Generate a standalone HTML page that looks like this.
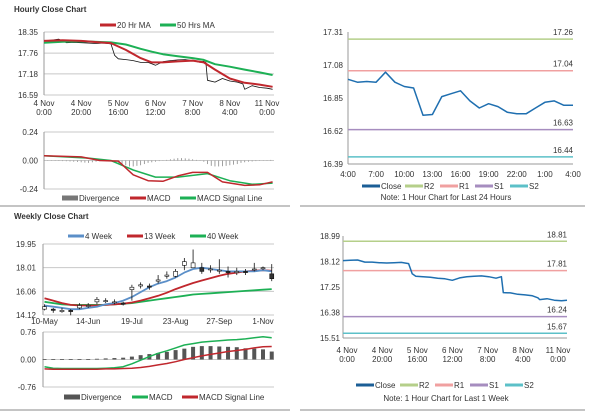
<!DOCTYPE html>
<html><head><meta charset="utf-8">
<style>
body{margin:0;background:#fff;width:600px;height:413px;overflow:hidden;font-family:"Liberation Sans",sans-serif}
svg text{font-family:"Liberation Sans",sans-serif;font-size:8px;fill:#333}
</style></head><body>
<svg id="c" width="600" height="413"></svg>
<script>
// ---------- Hourly (left) ----------
const hHours=[0,4,8,12,16,20,24,28,32,36,38,40,44,48,52,56,60,64,68,72,76,80,84,87,88,92,96,100,104,107,108,112,116,120,123];
const hClose=[18.1,18.12,18.15,18.05,18.06,18.05,18.04,18.03,18.04,18.02,17.7,17.6,17.58,17.55,17.5,17.5,17.42,17.52,17.55,17.57,17.58,17.55,17.5,17.55,17.0,16.95,17.05,16.98,16.95,16.9,16.75,16.85,16.8,16.78,16.75];
const maHours=[0,10,20,30,36,44,52,58,64,72,80,86,92,100,108,116,123];
const ma20=[18.1,18.12,18.1,18.06,18.04,17.85,17.62,17.5,17.5,17.53,17.55,17.5,17.3,17.05,16.93,16.88,16.82];
const ma50=[18.05,18.08,18.09,18.07,18.06,18.0,17.88,17.8,17.73,17.67,17.62,17.57,17.45,17.38,17.3,17.22,17.15];
const hTicks=[18.35,17.76,17.18,16.59];
const hXLabels=[["4 Nov","0:00",0],["4 Nov","20:00",20],["5 Nov","16:00",40],["6 Nov","12:00",60],["7 Nov","8:00",80],["8 Nov","4:00",100],["11 Nov","0:00",120]];
const mHours=[0,20,30,40,48,56,64,72,80,88,96,108,116,123];
const hMacd=[0.04,0.03,0.0,-0.005,-0.12,-0.17,-0.175,-0.13,-0.1,-0.1,-0.18,-0.21,-0.205,-0.18];
const sHours=[0,24,36,48,60,72,88,100,112,123];
const hSignal=[0.04,0.02,0.0,-0.08,-0.14,-0.14,-0.11,-0.17,-0.2,-0.19];
const hDiv=[0,0,-0.002,-0.003,-0.004,-0.005,-0.006,-0.008,-0.01,-0.012,-0.015,-0.018,-0.02,-0.015,-0.01,-0.005,0,0,0,-0.01,-0.02,-0.03,-0.04,-0.05,-0.05,-0.045,-0.04,-0.03,-0.02,-0.015,-0.01,-0.005,0,0.005,0.01,0.015,0.02,0.02,0.018,0.015,0.01,0.005,0,-0.01,-0.03,-0.045,-0.05,-0.05,-0.048,-0.045,-0.04,-0.035,-0.03,-0.02,-0.015,-0.01,-0.008,-0.005,-0.003,0,0.003,0.005];
const hmTicks=[0.24,0.00,-0.24];
// ---------- Right top ----------
const rtLabels=["4:00","7:00","10:00","13:00","16:00","19:00","22:00","1:00","4:00"];
const rtClose=[16.98,16.96,16.965,16.96,17.03,16.96,16.93,16.92,16.73,16.735,16.86,16.88,16.9,16.83,16.78,16.81,16.79,16.75,16.74,16.74,16.78,16.82,16.83,16.8,16.8];
const rtTicks=[17.31,17.08,16.85,16.62,16.39];
const rtLevels=[17.26,17.04,16.63,16.44];
// ---------- Weekly ----------
const wOpen=[14.6,14.6,14.4,14.5,14.7,14.9,15.2,15.3,15.2,15.1,16.2,16.5,16.5,16.9,17.3,17.3,18.2,18.0,18.0,17.9,17.8,17.7,17.6,17.7,17.9,18.0,17.5];
const wClose=[14.8,14.5,14.5,14.4,14.9,14.9,15.4,15.3,15.2,15.0,16.4,16.6,16.4,17.0,17.4,17.7,18.5,18.4,17.7,17.9,17.8,17.6,17.7,17.6,17.9,18.0,17.1];
const wHigh=[15.0,14.7,14.7,14.6,15.1,15.1,15.6,15.5,15.4,15.2,16.6,16.8,16.7,17.4,17.7,17.9,18.8,19.5,18.4,18.2,18.7,18.1,18.0,17.9,18.4,18.1,18.3];
const wLow=[14.5,14.3,14.3,14.1,14.6,14.7,15.0,15.1,15.0,14.9,15.3,16.3,16.2,16.7,17.1,17.2,17.8,18.0,17.5,17.6,17.5,17.2,17.4,17.4,17.7,17.8,16.9];
const w4=[14.9,14.8,14.7,14.6,14.6,14.7,14.8,15.0,15.1,15.3,15.6,16.0,16.4,16.7,16.9,17.2,17.6,17.9,18.0,17.9,17.8,17.7,17.7,17.7,17.7,17.8,17.7];
const w13=[15.5,15.3,15.1,14.95,14.9,14.9,14.9,14.95,15.0,15.05,15.15,15.3,15.5,15.7,15.95,16.25,16.5,16.75,16.95,17.15,17.35,17.5,17.6,17.7,17.75,17.8,17.75];
const w40=[15.2,15.1,15.0,14.95,14.95,14.95,14.95,14.95,15.0,15.05,15.1,15.2,15.3,15.4,15.5,15.6,15.7,15.8,15.85,15.9,15.95,16.0,16.05,16.1,16.15,16.2,16.25];
const wTicks=[19.95,18.01,16.06,14.12];
const wXLabels=[["10-May",0],["14-Jun",5],["19-Jul",10],["23-Aug",15],["27-Sep",20],["1-Nov",25]];
const wDiv=[0.01,0.01,0.01,0.01,0.01,0.01,0.02,0.03,0.04,0.05,0.08,0.12,0.15,0.18,0.21,0.26,0.3,0.35,0.37,0.37,0.36,0.35,0.34,0.31,0.3,0.28,0.22];
const wMacd=[-0.2,-0.24,-0.25,-0.25,-0.25,-0.25,-0.25,-0.24,-0.23,-0.2,-0.12,-0.02,0.08,0.17,0.24,0.32,0.4,0.44,0.48,0.5,0.52,0.54,0.55,0.57,0.6,0.63,0.6];
const wSignal=[-0.26,-0.27,-0.27,-0.27,-0.27,-0.27,-0.27,-0.26,-0.26,-0.25,-0.24,-0.22,-0.19,-0.15,-0.11,-0.06,0.0,0.05,0.1,0.14,0.18,0.22,0.25,0.28,0.32,0.35,0.36];
const wmTicks=[0.76,0.00,-0.76];
// ---------- Right bottom ----------
const rbHours=[0,4,8,12,16,20,24,28,32,36,38,40,44,48,52,56,60,64,68,72,76,80,84,87,88,92,96,100,104,107,108,112,116,120,123];
const rbClose=[18.15,18.16,18.17,18.1,18.1,18.08,18.07,18.08,18.09,18.05,17.7,17.62,17.6,17.58,17.55,17.53,17.48,17.56,17.6,17.62,17.63,17.6,17.55,17.6,17.06,17.05,17.0,16.98,16.95,16.88,16.82,16.85,16.8,16.78,16.8];
const rbLabels=[["4 Nov","0:00",0],["4 Nov","20:00",20],["5 Nov","16:00",40],["6 Nov","12:00",60],["7 Nov","8:00",80],["8 Nov","4:00",100],["11 Nov","0:00",120]];
const rbTicks=[18.99,18.12,17.25,16.38,15.51];
const rbLevels=[18.81,17.81,16.24,15.67];

const NS="http://www.w3.org/2000/svg",svg=document.getElementById('c');
function el(t,a,p){const e=document.createElementNS(NS,t);for(const k in a)e.setAttribute(k,a[k]);(p||svg).appendChild(e);return e;}
function txt(x,y,s,anchor,extra){const e=el('text',Object.assign({x:x,y:y,'text-anchor':anchor||'start'},extra||{}));e.textContent=s;return e;}
function lin(a,b,c,d){return v=>c+(v-a)*(d-c)/(b-a);}
function poly(xs,ys,fx,fy,col,w,name){const p=xs.map((x,i)=>fx(x).toFixed(1)+','+fy(ys[i]).toFixed(1)).join(' ');const e=el('polyline',{points:p,fill:'none',stroke:col,'stroke-width':w,'stroke-linejoin':'round'});return e;}
function grid(ticks,fy,x0,x1,lx,fmt,name){ticks.forEach(t=>{const g=el('line',{x1:x0,x2:x1,y1:fy(t),y2:fy(t),stroke:'#c8c8c8','stroke-width':1});const l=txt(lx,fy(t)+3,t.toFixed(2),'end');});}
function axisV(x,y0,y1){el('line',{x1:x,x2:x,y1:y0,y2:y1,stroke:'#999'});}
function legendItem(x,y,col,label,w,thick){const l=el('line',{x1:x,x2:x+w,y1:y,y2:y,stroke:col,'stroke-width':thick||3});const t=txt(x+w+1,y+3,label);}
const idx=a=>a.map((_,i)=>i);
const RED='#c0272d',GRN='#1db055',BLU='#1f6fb0';

// Titles & separators
let t1=txt(14,12,'Hourly Close Chart','start',{'font-size':'11px','font-weight':'bold',fill:'#111'});
let t2=txt(14,219,'Weekly Close Chart','start',{'font-size':'11px','font-weight':'bold',fill:'#111'});
el('line',{x1:0,x2:290,y1:206,y2:206,stroke:'#888'});el('line',{x1:300,x2:585,y1:206,y2:206,stroke:'#888'});
el('line',{x1:0,x2:290,y1:410,y2:410,stroke:'#888'});el('line',{x1:300,x2:585,y1:410,y2:410,stroke:'#888'});

// Hourly price
{const fx=lin(0,120,44,267),fy=lin(18.35,16.59,32,95);
grid(hTicks,fy,44,274,38,null,'hourly');axisV(44,32,95);
hXLabels.forEach(l=>{const a=txt(fx(l[2]),106,l[0],'middle');txt(fx(l[2]),115,l[1],'middle');});
poly(hHours,hClose,fx,fy,'#111',0.8,'hourly-close-line');
poly(maHours,ma50,fx,fy,GRN,2,'ma50-line');poly(maHours,ma20,fx,fy,RED,2,'ma20-line');
legendItem(100,25,RED,'20 Hr MA',16);legendItem(160,25,GRN,'50 Hrs MA',16);
// MACD
const fm=lin(0.24,-0.24,132,189);grid(hmTicks,fm,44,274,38,null,'hourly-macd');axisV(44,132,189);
hDiv.forEach((v,i)=>{const b=el('rect',{x:fx(i*2)-0.4,y:Math.min(fm(v),fm(0)),width:0.8,height:Math.max(0.3,Math.abs(fm(v)-fm(0))),fill:'#888'});});
poly(sHours,hSignal,fx,fm,GRN,1.5,'hourly-signal-line');poly(mHours,hMacd,fx,fm,RED,1.5,'hourly-macd-line');
legendItem(62,198,'#777','Divergence',16,5);legendItem(130,198,RED,'MACD',16);legendItem(180,198,GRN,'MACD Signal Line',16);}

// Right top
{const fx=lin(0,24,348,573),fy=lin(17.31,16.39,32,164);
rtTicks.forEach(t=>{const l=txt(343,fy(t)+3,t.toFixed(2),'end');});
axisV(348,32,164);el('line',{x1:348,x2:573,y1:164,y2:164,stroke:'#999'});
const cols=['#b5cf8a','#f0a0a0','#a68dbf','#5cc0c8'];
rtLevels.forEach((v,i)=>{const l=el('line',{x1:348,x2:573,y1:fy(v),y2:fy(v),stroke:cols[i],'stroke-width':1.5});const t=txt(573,fy(v)-4,v.toFixed(2),'end');});
rtLabels.forEach((s,i)=>{const t=txt(fx(i*3),177,s,'middle');});
poly(idx(rtClose),rtClose,fx,fy,BLU,1.5,'rt-close-line');
legendItem(362,186,'#1b5e96','Close',18);legendItem(405,186,cols[0],'R2',18);legendItem(440,186,cols[1],'R1',18);legendItem(475,186,cols[2],'S1',18);legendItem(510,186,cols[3],'S2',18);
const n=txt(446,200,'Note: 1 Hour Chart for Last 24 Hours','middle',{'font-size':'6px'});}

// Weekly price
{const fx=lin(0,25,44.5,263),fy=lin(19.95,14.12,244,315);
grid(wTicks,fy,43,274,36,null,'weekly');axisV(43,244,315);
wXLabels.forEach(l=>{const t=txt(fx(l[1]),324,l[0],'middle');});
poly(idx(w40),w40,fx,fy,GRN,1.8,'w40-line');poly(idx(w13),w13,fx,fy,RED,1.8,'w13-line');poly(idx(w4),w4,fx,fy,'#5b8fc8',1.8,'w4-line');
wOpen.forEach((o,i)=>{const c=wClose[i];const w=el('line',{x1:fx(i),x2:fx(i),y1:fy(wHigh[i]),y2:fy(wLow[i]),stroke:'#111','stroke-width':0.8});
const b=el('rect',{x:fx(i)-2,y:fy(Math.max(o,c)),width:4,height:Math.max(1,Math.abs(fy(o)-fy(c))),fill:c>=o?'#fff':'#333',stroke:'#111','stroke-width':0.6});});
legendItem(68,236,'#5b8fc8','4 Week',16);legendItem(127,236,RED,'13 Week',16);legendItem(190,236,GRN,'40 Week',16);
const fm=lin(0.76,-0.76,332,387);grid(wmTicks,fm,43,274,36,null,'weekly-macd');axisV(43,332,387);
wDiv.forEach((v,i)=>{const b=el('rect',{x:fx(i)-2,y:Math.min(fm(v),fm(0)),width:4,height:Math.max(0.8,Math.abs(fm(v)-fm(0))),fill:'#555'});});
poly(idx(wMacd),wMacd,fx,fm,GRN,1.5,'weekly-macd-line');poly(idx(wSignal),wSignal,fx,fm,RED,1.5,'weekly-signal-line');
legendItem(64,397,'#555','Divergence',16,5);legendItem(132,397,GRN,'MACD',16);legendItem(182,397,RED,'MACD Signal Line',16);}

// Right bottom
{const fx=lin(0,123,343,567),fy=lin(18.99,15.51,236,338),lx=lin(0,120,347,558);
rbTicks.forEach(t=>{const l=txt(340,fy(t)+3,t.toFixed(2),'end');});
axisV(343,236,338);el('line',{x1:343,x2:567,y1:338,y2:338,stroke:'#999'});
const cols=['#b5cf8a','#f0a0a0','#a68dbf','#5cc0c8'];
rbLevels.forEach((v,i)=>{const l=el('line',{x1:343,x2:567,y1:fy(v),y2:fy(v),stroke:cols[i],'stroke-width':1.5});const t=txt(567,fy(v)+(i==2?-4:-4),v.toFixed(2),'end');});
rbLabels.forEach(l=>{const t=txt(lx(l[2]),353,l[0],'middle');txt(lx(l[2]),362,l[1],'middle');});
poly(rbHours,rbClose,fx,fy,BLU,1.5,'rb-close-line');
legendItem(356,385,'#1b5e96','Close',18);legendItem(400,385,cols[0],'R2',18);legendItem(435,385,cols[1],'R1',18);legendItem(470,385,cols[2],'S1',18);legendItem(505,385,cols[3],'S2',18);
const n=txt(446,401,'Note: 1 Hour Chart for Last 1 Week','middle',{'font-size':'6px'});}
</script>
</body></html>
